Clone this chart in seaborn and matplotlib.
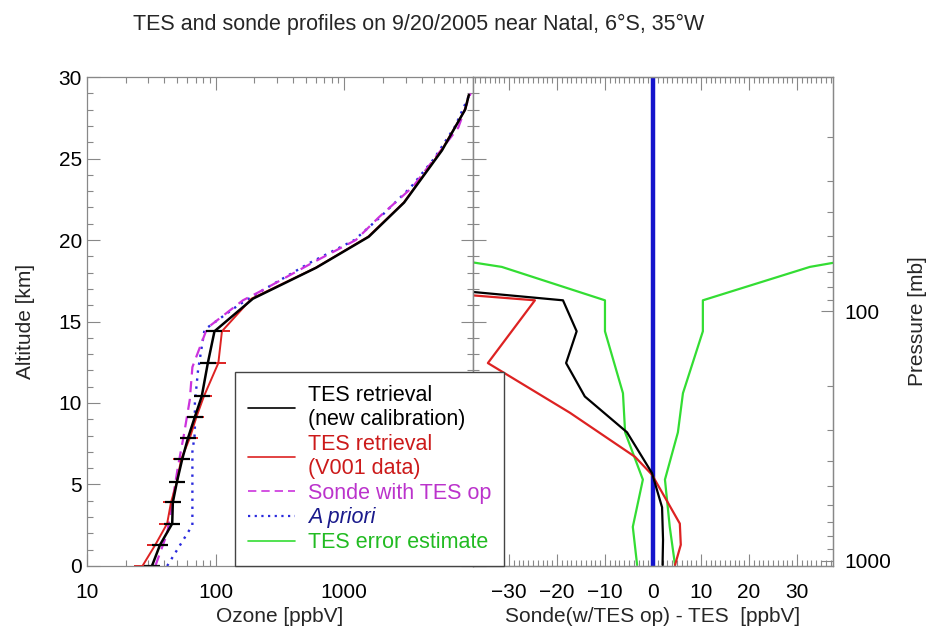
import matplotlib
matplotlib.use("Agg")
import matplotlib.pyplot as plt
import numpy as np
import pandas as pd
import seaborn as sns
from matplotlib.lines import Line2D
from matplotlib.ticker import MultipleLocator, LogLocator, NullFormatter

# Left panel: ozone profiles [ppbV] vs altitude [km]
alt_tes = [0, 1.3, 2.6, 3.9, 5.15, 6.55, 7.85, 9.15, 10.4, 12.45, 14.4, 16.4, 18.3, 20.2, 22.3, 25.5, 28.0, 28.9]
o3_new = [32, 37, 46, 46.5, 50, 55, 61, 69, 78, 87, 98, 195, 605, 1550, 2920, 5750, 8700, 9300]
o3_v001 = [27, 34, 42, 45, 50, 54, 63, 71, 81, 105, 112, 190, 600, 1530, 2900, 5700, 8700, 9300]

alt_sonde = [0, 2.0, 3.9, 6.1, 8.15, 10.2, 12.2, 14.6, 16.3, 16.9, 18.6, 20.0, 21.4, 23.25, 26.9, 29.0]
o3_sonde = [34, 42, 46, 51, 57, 63, 66, 86, 163, 229, 565, 1230, 1860, 3400, 7700, 9600]

alt_prior = [0, 2.5, 5, 7, 8.15, 10, 12, 14.5, 16, 16.9, 18.6, 20, 21.4, 23.25, 25, 27, 29]
o3_prior = [42, 66, 66, 66, 69, 69, 73, 82, 150, 230, 540, 1200, 1900, 3300, 5000, 7300, 9500]

# Right panel: sonde - TES differences [ppbV]
alt_diff_new = [0.06, 1.6, 3.6, 5.7, 8.2, 10.4, 12.45, 14.4, 16.3, 16.88]
diff_new = [2.0, 2.1, 1.9, -0.2, -5.4, -14.2, -18.1, -15.9, -18.75, -40]
alt_diff_v001 = [0.06, 1.3, 2.6, 5.6, 6.7, 9.4, 12.45, 16.3, 16.66]
diff_v001 = [4.6, 5.8, 5.6, -0.2, -3.75, -17.3, -34.4, -24.6, -40]
alt_err = [0.06, 2.4, 5.3, 8.2, 10.6, 14.4, 16.3, 18.35, 18.83]
err_hi = [4.6, 3.5, 2.5, 5.2, 6.25, 10.4, 10.4, 32.7, 42]
err_lo = [-3.3, -4.2, -2.1, -5.8, -6.25, -10, -10, -31.5, -42]

sns.set_theme(style="ticks")
plt.rcParams["font.family"] = ["Liberation Sans", "DejaVu Sans"]
plt.rcParams["axes.edgecolor"] = "#888888"
plt.rcParams["xtick.color"] = "#888888"
plt.rcParams["ytick.color"] = "#888888"
plt.rcParams["xtick.labelcolor"] = "black"
plt.rcParams["ytick.labelcolor"] = "black"

BLACK = "black"
RED = "#dd2222"
MAGENTA = "#cc33dd"
BLUE = "#2a2add"
GREEN = "#33dd33"

fig = plt.figure(figsize=(9.3, 6.35), dpi=100)
axl = fig.add_axes([0.0935, 0.1087, 0.415, 0.770])
axr = fig.add_axes([0.5086, 0.1087, 0.387, 0.770])

df_new = pd.DataFrame({"alt": alt_tes, "new": o3_new, "v001": o3_v001})
low = df_new[df_new["alt"] < 15]

# left panel
sns.lineplot(x=o3_prior, y=alt_prior, sort=False, estimator=None, ax=axl,
             color=BLUE, lw=1.7, ls=(0, (1, 2.4)))
sns.lineplot(x=o3_sonde, y=alt_sonde, sort=False, estimator=None, ax=axl,
             color=MAGENTA, lw=1.6, ls=(0, (5, 3)))
sns.lineplot(data=df_new, x="v001", y="alt", sort=False, estimator=None, ax=axl,
             color=RED, lw=1.4)
sns.lineplot(data=df_new, x="new", y="alt", sort=False, estimator=None, ax=axl,
             color=BLACK, lw=1.8)
axl.plot(low["v001"], low["alt"], ls="none", marker="_", ms=11, mew=1.4, color=RED)
axl.plot(low["new"], low["alt"], ls="none", marker="_", ms=11, mew=1.6, color=BLACK)

axl.set_xscale("log")
axl.set_xlim(10, 10000)
axl.set_ylim(0, 30)
axl.set_xticks([10, 100, 1000])
axl.set_xticklabels(["10", "100", "1000"])
axl.xaxis.set_minor_locator(LogLocator(base=10, subs=np.arange(2, 10)))
axl.xaxis.set_minor_formatter(NullFormatter())
axl.yaxis.set_major_locator(MultipleLocator(5))
axl.yaxis.set_minor_locator(MultipleLocator(1))
axl.tick_params(which="both", direction="in", top=True, right=True, labelsize=15)
axl.tick_params(which="major", length=9, width=0.8)
axl.tick_params(which="minor", length=4, width=0.8)
axl.tick_params(axis="x", which="both", pad=12)
axl.set_xlabel("Ozone [ppbV]", fontsize=15, labelpad=4)
axl.set_ylabel("Altitude [km]", fontsize=15, labelpad=17)

# right panel
axr.axvline(0, color="#1414cc", lw=3.2, zorder=1)
sns.lineplot(x=err_hi, y=alt_err, sort=False, estimator=None, ax=axr, color=GREEN, lw=1.6)
sns.lineplot(x=err_lo, y=alt_err, sort=False, estimator=None, ax=axr, color=GREEN, lw=1.6)
sns.lineplot(x=diff_v001, y=alt_diff_v001, sort=False, estimator=None, ax=axr, color=RED, lw=1.6)
sns.lineplot(x=diff_new, y=alt_diff_new, sort=False, estimator=None, ax=axr, color=BLACK, lw=1.6)
axr.set_xlim(-37.5, 37.5)
axr.set_ylim(0, 30)
axr.xaxis.set_major_locator(MultipleLocator(10))
axr.xaxis.set_minor_locator(MultipleLocator(1))
axr.yaxis.set_major_locator(MultipleLocator(5))
axr.yaxis.set_minor_locator(MultipleLocator(1))
axr.set_xticks([-30, -20, -10, 0, 10, 20, 30])
axr.set_xticklabels(["\u221230", "\u221220", "\u221210", "0", "10", "20", "30"])
axr.tick_params(which="both", direction="in", top=True, right=False, labelleft=False, labelsize=15)
axr.tick_params(which="major", length=9, width=0.8)
axr.tick_params(which="minor", length=4, width=0.8)
axr.tick_params(axis="x", which="both", pad=12)
axr.set_xlabel("Sonde(w/TES op) - TES  [ppbV]", fontsize=15, labelpad=4)
axr.set_ylabel("")

# pressure axis on the right
H = 6.65
p0 = 100 * np.exp(15.64 / H)
axp = axr.twinx()
axp.set_yscale("log")
axp.set_ylim(p0, p0 * np.exp(-30 / H))
axp.set_yticks([100, 1000])
axp.set_yticklabels(["100", "1000"])
axp.yaxis.set_minor_locator(LogLocator(base=10, subs=np.arange(2, 10)))
axp.yaxis.set_minor_formatter(NullFormatter())
axp.tick_params(which="both", direction="in", labelsize=15, pad=8)
axp.tick_params(which="major", length=9, width=0.8)
axp.tick_params(which="minor", length=4, width=0.8)
axp.set_ylabel("Pressure [mb]", fontsize=15, labelpad=12)
for ax in (axl, axr, axp):
    for s in ax.spines.values():
        s.set_color("#888888")
        s.set_linewidth(0.9)

# legend over both panels
handles = [
    Line2D([], [], color=BLACK, lw=1.2),
    Line2D([], [], color=RED, lw=1.2),
    Line2D([], [], color=MAGENTA, lw=1.2, ls=(0, (5, 3))),
    Line2D([], [], color=BLUE, lw=1.6, ls=(0, (1, 2))),
    Line2D([], [], color=GREEN, lw=1.2),
]
labels = ["TES retrieval\n(new calibration)", "TES retrieval\n(V001 data)",
          "Sonde with TES op", "A priori", "TES error estimate"]
leg = fig.legend(handles, labels, loc="lower left", bbox_to_anchor=(0.2525, 0.1087),
                 borderaxespad=0, fontsize=15.5, frameon=True, fancybox=False,
                 handlelength=2.2, handletextpad=0.6, labelspacing=0.17, borderpad=0.6,
                 labelcolor=[BLACK, "#cc1a1a", "#bb33cc", "#1a1a8c", "#22bb22"])
leg.get_frame().set_edgecolor("#444444")
leg.get_frame().set_linewidth(1.0)
leg.get_frame().set_alpha(1)
leg.get_texts()[3].set_style("italic")

fig.text(0.4505, 0.962, "TES and sonde profiles on 9/20/2005 near Natal, 6\u00b0S, 35\u00b0W",
         ha="center", va="center", fontsize=15.5)

fig.savefig("out.png", dpi=100)
